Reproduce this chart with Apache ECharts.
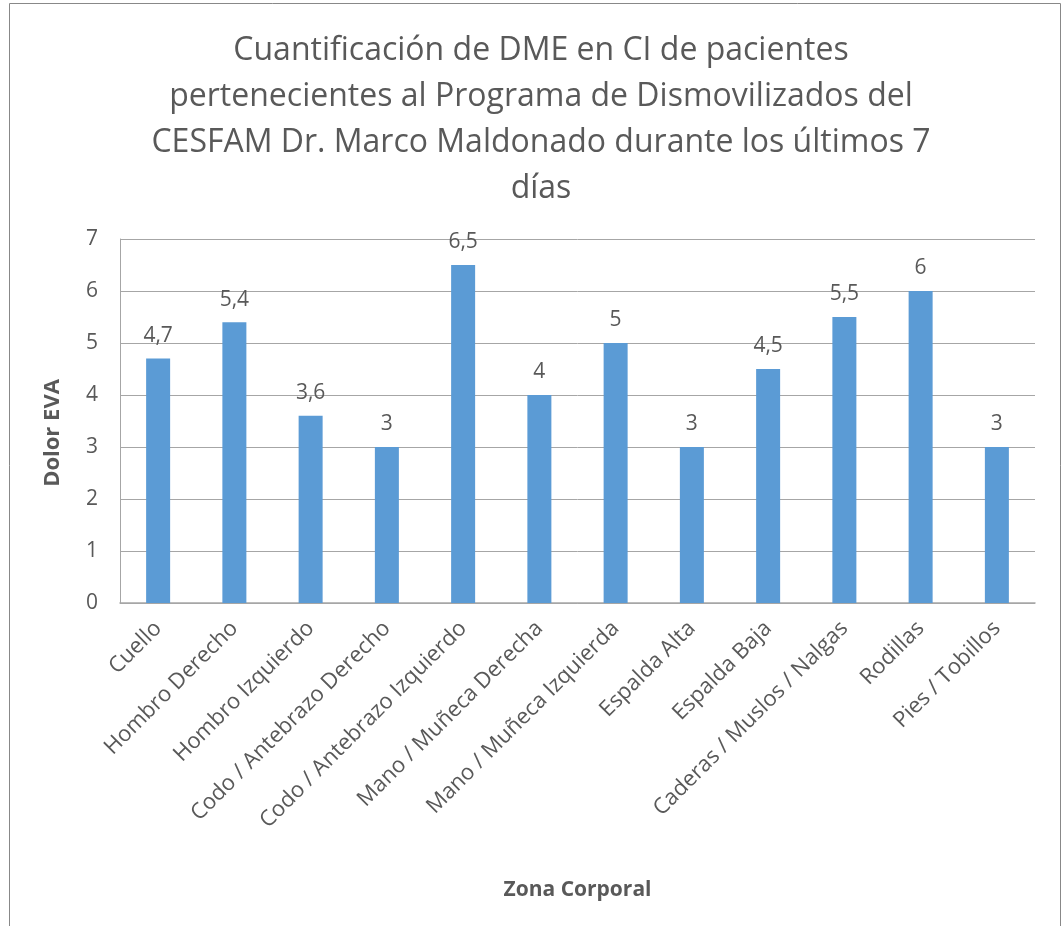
<!DOCTYPE html>
<html>
<head>
<meta charset="utf-8">
<script src="https://cdn.jsdelivr.net/npm/echarts@6/dist/echarts.min.js"></script>
<style>
  html, body { margin: 0; padding: 0; background: #fff; }
  #chart { width: 1064px; height: 926px; }
</style>
</head>
<body>
<div id="chart"></div>
<script>
// data
const zonas = [
  'Cuello', 'Hombro Derecho', 'Hombro Izquierdo', 'Codo / Antebrazo Derecho',
  'Codo / Antebrazo Izquierdo', 'Mano / Muñeca Derecha', 'Mano / Muñeca Izquierda',
  'Espalda Alta', 'Espalda Baja', 'Caderas / Muslos / Nalgas', 'Rodillas', 'Pies / Tobillos'
];
const dolor = [4.7, 5.4, 3.6, 3, 6.5, 4, 5, 3, 4.5, 5.5, 6, 3];

const gris = '#595959';
const fuente = '"Open Sans", Lato, sans-serif';

const chart = echarts.init(document.getElementById('chart'));
chart.setOption({
  animation: false,
  textStyle: { fontFamily: fuente },
  title: {
    text: 'Cuantificación de DME en CI de pacientes\npertenecientes al Programa de Dismovilizados del\nCESFAM Dr. Marco Maldonado durante los últimos 7\ndías',
    left: 536,
    textAlign: 'center',
    top: 23,
    textStyle: { fontSize: 32, fontWeight: 'normal', color: gris, lineHeight: 46, fontFamily: fuente }
  },
  graphic: [{
    type: 'rect',
    shape: { x: 9.5, y: 3.5, width: 1051, height: 930 },
    style: { fill: 'none', stroke: '#888', lineWidth: 1 },
    silent: true
  }],
  grid: { left: 120, right: 29, top: 239, bottom: 323, containLabel: false },
  xAxis: {
    type: 'category',
    data: zonas,
    name: 'Zona Corporal',
    nameLocation: 'middle',
    nameGap: 277,
    nameTextStyle: { fontSize: 21, fontWeight: 'bold', color: gris, fontFamily: fuente },
    axisLine: { lineStyle: { color: '#a6a6a6', width: 1.5 } },
    axisTick: { show: false },
    axisLabel: { rotate: 45, fontSize: 22, color: gris, margin: 22, interval: 0 }
  },
  yAxis: {
    type: 'value',
    min: 0,
    max: 7,
    interval: 1,
    name: 'Dolor EVA',
    nameLocation: 'middle',
    nameGap: 56,
    nameTextStyle: { fontSize: 22, fontWeight: 'bold', color: gris, fontFamily: fuente, padding: [0, 24, 0, 0] },
    axisLine: { show: true, lineStyle: { color: '#a6a6a6' } },
    axisTick: { show: false },
    axisLabel: { fontSize: 21, color: gris, margin: 22 },
    splitLine: { lineStyle: { color: '#a6a6a6' } }
  },
  series: [{
    type: 'bar',
    data: dolor,
    barWidth: 24,
    itemStyle: { color: '#5b9bd5' },
    label: {
      show: true,
      position: 'top',
      distance: 12,
      fontSize: 21,
      color: gris,
      formatter: p => String(p.value).replace('.', ',')
    }
  }]
});
</script>
</body>
</html>
